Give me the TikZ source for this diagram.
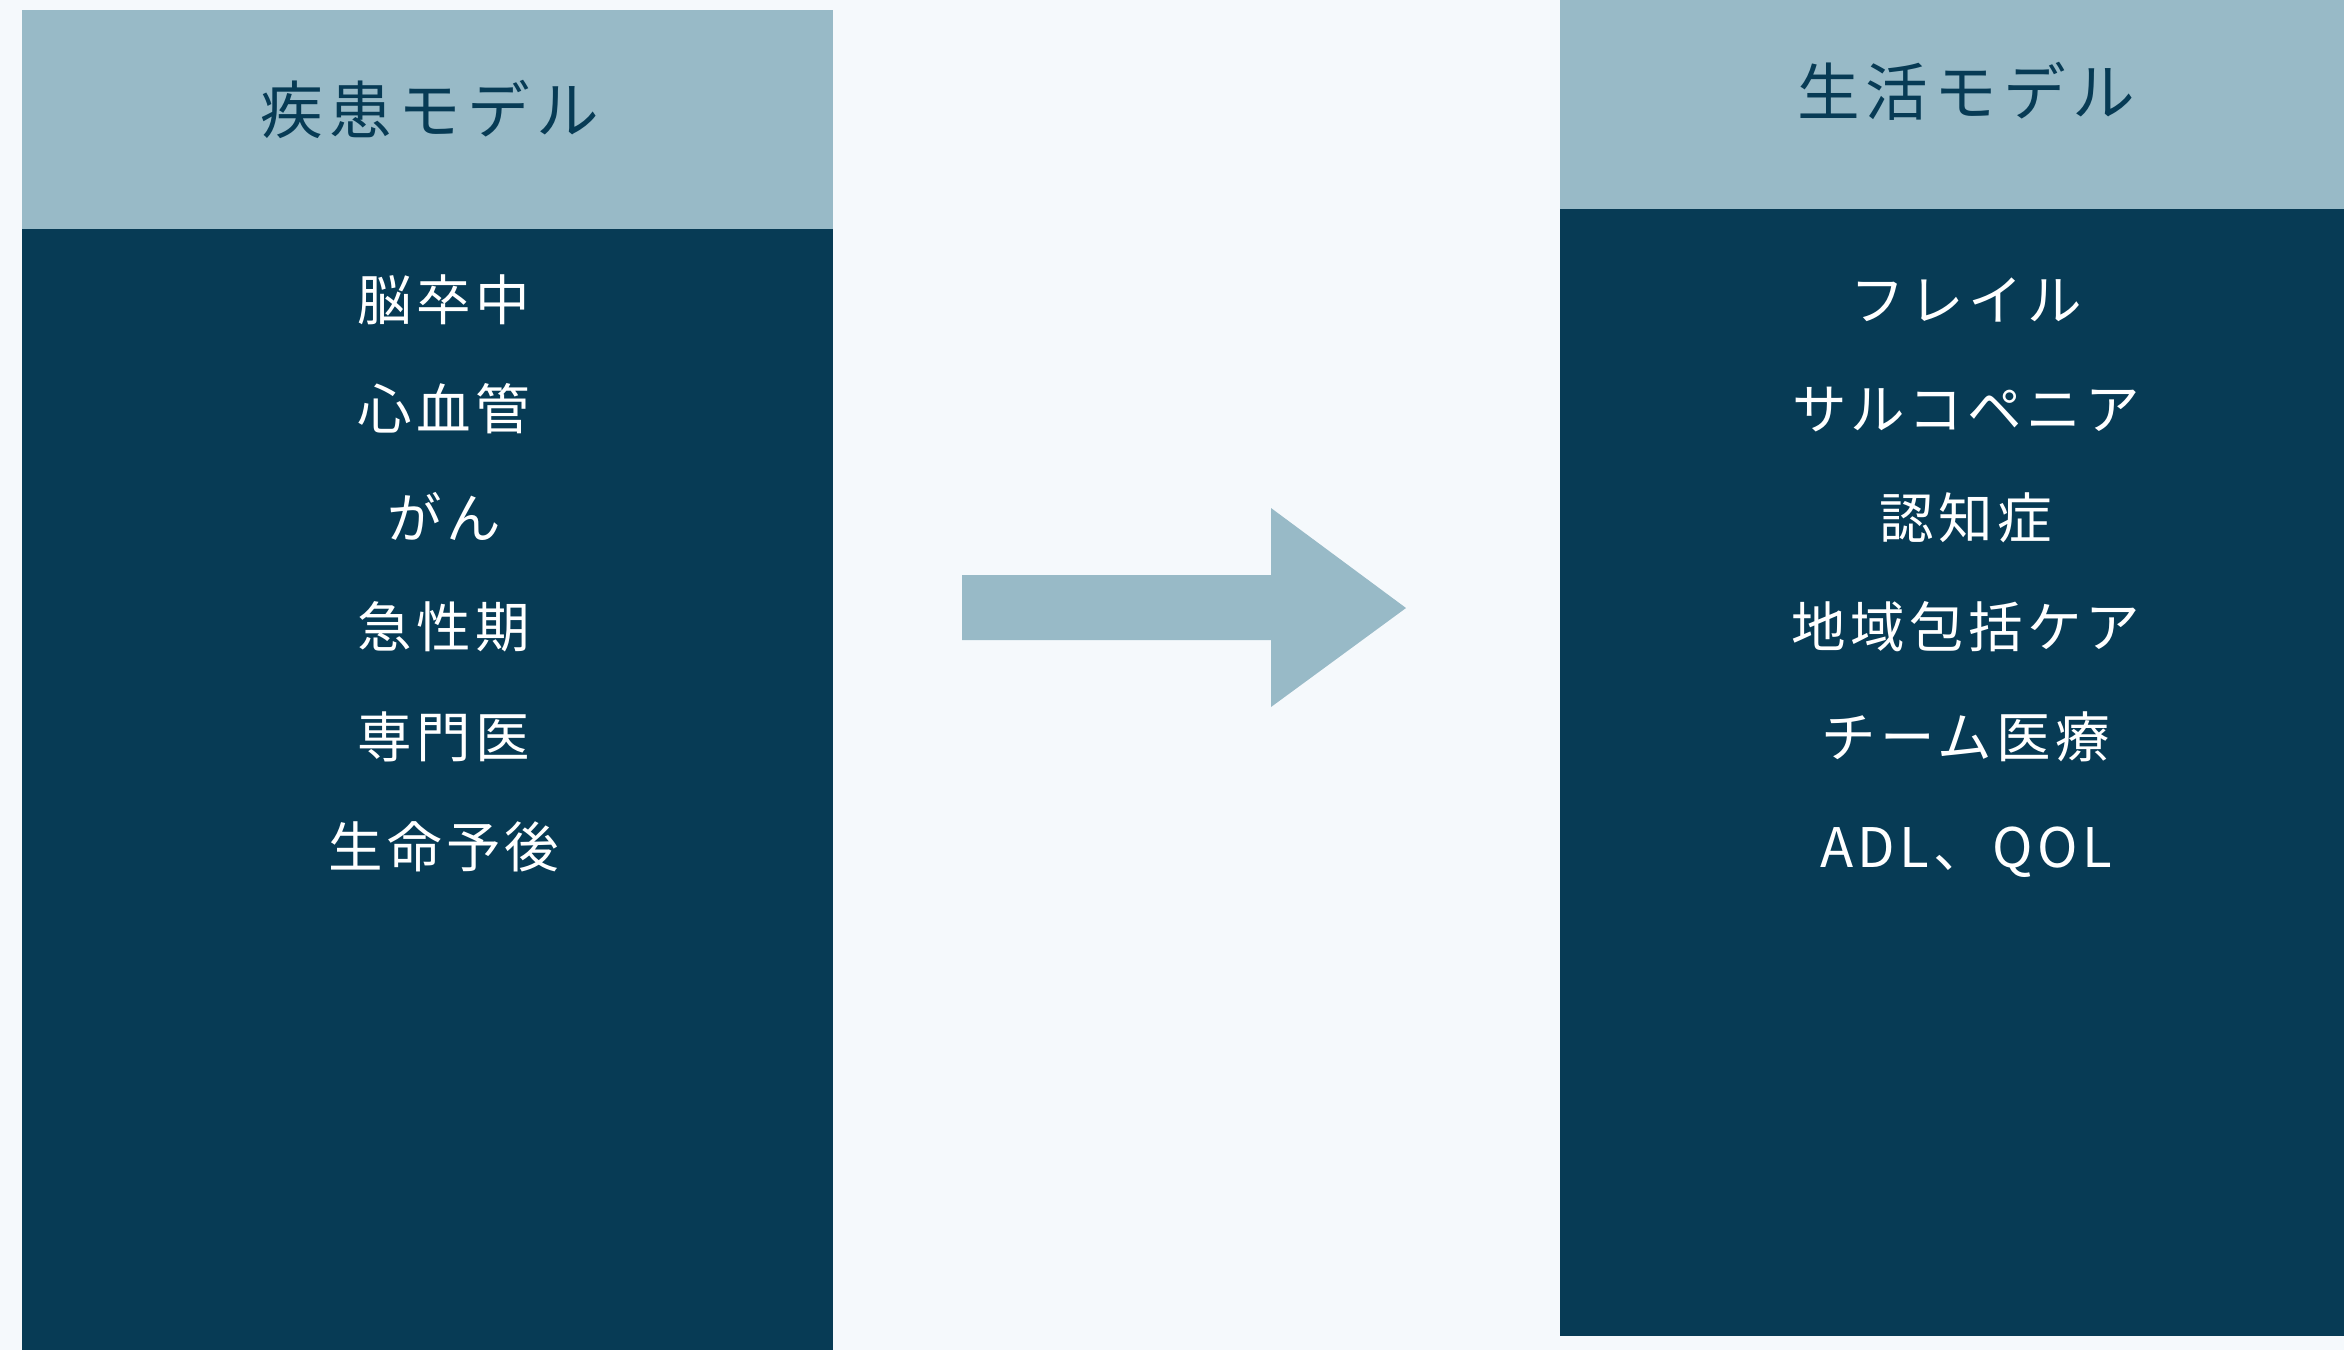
\documentclass[tikz,border=0pt]{standalone}
\usepackage{fontspec}
\newfontfamily\jp[LetterSpace=8]{Noto Sans CJK JP}
\newfontfamily\jph[LetterSpace=10]{Noto Sans CJK JP}
\definecolor{bg}{HTML}{F5F9FC}
\definecolor{lightb}{HTML}{98BAC7}
\definecolor{darkb}{HTML}{073B55}
\begin{document}
\begin{tikzpicture}[x=0.01cm,y=-0.01cm,
  hdr/.style={font=\jph\fontsize{17.8}{20}\selectfont, text=darkb, anchor=center, inner sep=0pt, text height=0.88em, text depth=0.12em},
  item/.style={font=\jp\fontsize{15.5}{18}\selectfont, text=white, anchor=center, inner sep=0pt, text height=0.88em, text depth=0.12em}]
\fill[bg] (0,0) rectangle (2344,1350);
\useasboundingbox (0,0) rectangle (2344,1350);
% left panel
\fill[lightb] (22,10) rectangle (833,229);
\fill[darkb] (22,229) rectangle (833,1350);
% right panel
\fill[lightb] (1560,0) rectangle (2344,209);
\fill[darkb] (1560,209) rectangle (2344,1336);
% arrow
\fill[lightb] (962,575) -- (1271,575) -- (1271,508) -- (1406,608) -- (1271,707) -- (1271,640) -- (962,640) -- cycle;
% headers
\node[hdr] (lh) at (430,120) {疾患モデル};
\node[hdr] (rh) at (1966,102) {生活モデル};
% left items
\node[item] (l1) at (444,307) {脳卒中};
\node[item] (l2) at (444,416) {心血管};
\node[item] (l3) at (444,525) {がん};
\node[item] (l4) at (444,634) {急性期};
\node[item] (l5) at (444,744) {専門医};
\node[item] (l6) at (444,854) {生命予後};
% right items
\node[item] (r1) at (1966,307) {フレイル};
\node[item] (r2) at (1966,416) {サルコペニア};
\node[item] (r3) at (1966,525) {認知症};
\node[item] (r4) at (1966,634) {地域包括ケア};
\node[item] (r5) at (1966,744) {チーム医療};
\node[item] (r6) at (1966,854) {ADL、QOL};
\end{tikzpicture}
\end{document}
